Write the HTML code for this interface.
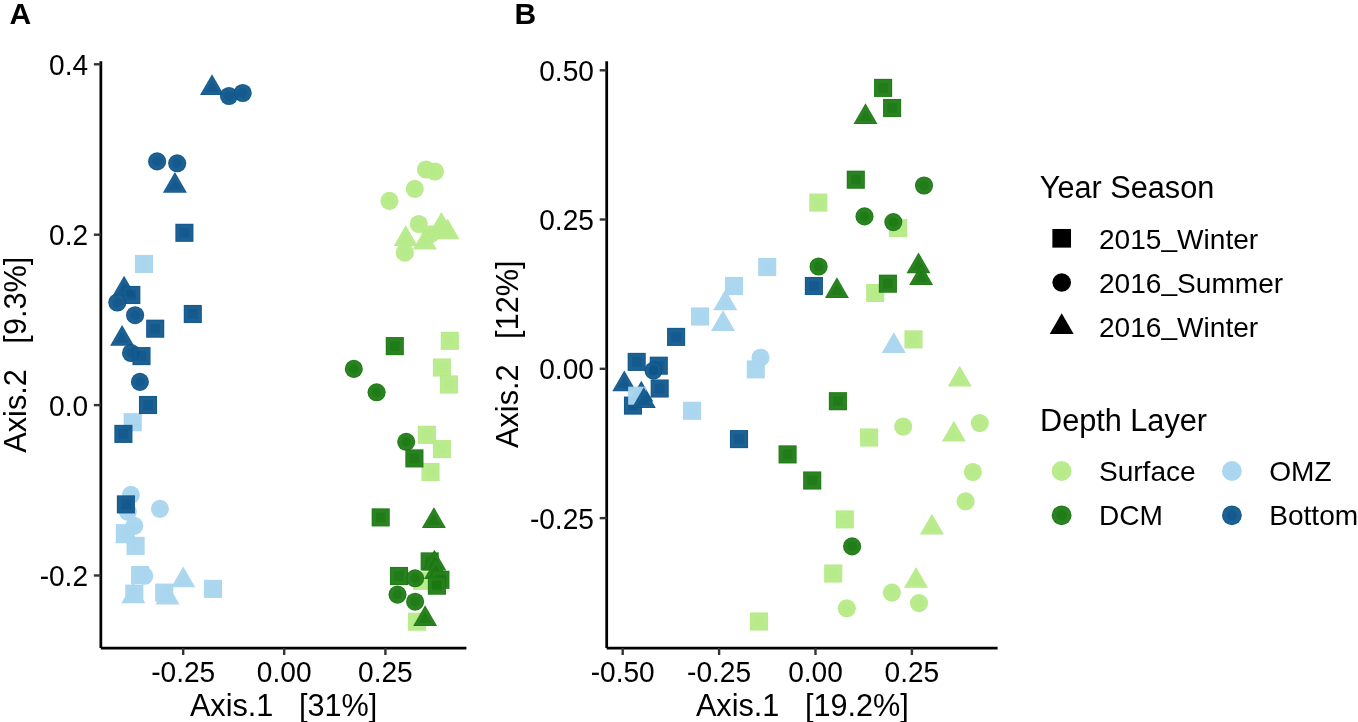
<!DOCTYPE html>
<html lang="en">
<head>
<meta charset="utf-8">
<title>PCoA ordination by depth layer and season</title>
<style>
html,body{margin:0;padding:0;background:#fff;}
body{width:1358px;height:722px;overflow:hidden;font-family:"Liberation Sans",sans-serif;}
svg{display:block;}
</style>
</head>
<body>
<svg width="1358" height="722" viewBox="0 0 1358 722" font-family="'Liberation Sans', sans-serif">
<rect width="1358" height="722" fill="#fff"/>
<text x="9.6" y="24.4" font-size="30.0" font-weight="bold">A</text>
<text x="514.5" y="24.4" font-size="30.0" font-weight="bold">B</text>
<g id="panelA">
<rect x="134.95" y="254.85" width="18.10" height="18.10" fill="#a8d5ee" fill-opacity="0.97"/><rect x="137.53" y="257.43" width="12.94" height="12.94" fill="none" stroke="#fff" stroke-opacity="0.03" stroke-width="3.35"/>
<rect x="123.65" y="413.15" width="18.10" height="18.10" fill="#a8d5ee" fill-opacity="0.97"/><rect x="126.23" y="415.73" width="12.94" height="12.94" fill="none" stroke="#fff" stroke-opacity="0.03" stroke-width="3.35"/>
<circle cx="130.90" cy="494.80" r="9.05" fill="#a8d5ee" fill-opacity="0.97"/><circle cx="130.90" cy="494.80" r="6.47" fill="none" stroke="#fff" stroke-opacity="0.03" stroke-width="3.35"/>
<circle cx="127.80" cy="511.80" r="9.05" fill="#a8d5ee" fill-opacity="0.97"/><circle cx="127.80" cy="511.80" r="6.47" fill="none" stroke="#fff" stroke-opacity="0.03" stroke-width="3.35"/>
<circle cx="159.90" cy="508.90" r="9.05" fill="#a8d5ee" fill-opacity="0.97"/><circle cx="159.90" cy="508.90" r="6.47" fill="none" stroke="#fff" stroke-opacity="0.03" stroke-width="3.35"/>
<polygon points="127.00,522.46 138.99,543.22 115.01,543.22" fill="#a8d5ee" fill-opacity="0.97"/><polygon points="127.00,526.40 135.57,541.25 118.43,541.25" fill="none" stroke="#fff" stroke-opacity="0.03" stroke-width="2.56"/>
<circle cx="134.30" cy="525.90" r="9.05" fill="#a8d5ee" fill-opacity="0.97"/><circle cx="134.30" cy="525.90" r="6.47" fill="none" stroke="#fff" stroke-opacity="0.03" stroke-width="3.35"/>
<rect x="115.85" y="524.15" width="18.10" height="18.10" fill="#a8d5ee" fill-opacity="0.97"/><rect x="118.43" y="526.73" width="12.94" height="12.94" fill="none" stroke="#fff" stroke-opacity="0.03" stroke-width="3.35"/>
<rect x="126.55" y="536.85" width="18.10" height="18.10" fill="#a8d5ee" fill-opacity="0.97"/><rect x="129.13" y="539.43" width="12.94" height="12.94" fill="none" stroke="#fff" stroke-opacity="0.03" stroke-width="3.35"/>
<rect x="131.05" y="565.95" width="18.10" height="18.10" fill="#a8d5ee" fill-opacity="0.97"/><rect x="133.63" y="568.53" width="12.94" height="12.94" fill="none" stroke="#fff" stroke-opacity="0.03" stroke-width="3.35"/>
<circle cx="144.30" cy="575.80" r="9.05" fill="#a8d5ee" fill-opacity="0.97"/><circle cx="144.30" cy="575.80" r="6.47" fill="none" stroke="#fff" stroke-opacity="0.03" stroke-width="3.35"/>
<polygon points="183.20,566.56 195.19,587.32 171.21,587.32" fill="#a8d5ee" fill-opacity="0.97"/><polygon points="183.20,570.50 191.77,585.35 174.63,585.35" fill="none" stroke="#fff" stroke-opacity="0.03" stroke-width="2.56"/>
<rect x="203.95" y="579.85" width="18.10" height="18.10" fill="#a8d5ee" fill-opacity="0.97"/><rect x="206.53" y="582.43" width="12.94" height="12.94" fill="none" stroke="#fff" stroke-opacity="0.03" stroke-width="3.35"/>
<polygon points="133.30,582.56 145.29,603.32 121.31,603.32" fill="#a8d5ee" fill-opacity="0.97"/><polygon points="133.30,586.50 141.87,601.35 124.73,601.35" fill="none" stroke="#fff" stroke-opacity="0.03" stroke-width="2.56"/>
<rect x="125.25" y="584.55" width="18.10" height="18.10" fill="#a8d5ee" fill-opacity="0.97"/><rect x="127.83" y="587.13" width="12.94" height="12.94" fill="none" stroke="#fff" stroke-opacity="0.03" stroke-width="3.35"/>
<polygon points="167.60,583.66 179.59,604.42 155.61,604.42" fill="#a8d5ee" fill-opacity="0.97"/><polygon points="167.60,587.60 176.17,602.45 159.03,602.45" fill="none" stroke="#fff" stroke-opacity="0.03" stroke-width="2.56"/>
<rect x="155.15" y="583.55" width="18.10" height="18.10" fill="#a8d5ee" fill-opacity="0.97"/><rect x="157.73" y="586.13" width="12.94" height="12.94" fill="none" stroke="#fff" stroke-opacity="0.03" stroke-width="3.35"/>
<polygon points="212.00,74.16 223.99,94.92 200.01,94.92" fill="#0c558a" fill-opacity="0.97"/><polygon points="212.00,78.10 220.57,92.95 203.43,92.95" fill="none" stroke="#fff" stroke-opacity="0.04" stroke-width="2.56"/>
<circle cx="229.00" cy="96.00" r="9.05" fill="#0c558a" fill-opacity="0.97"/><circle cx="229.00" cy="96.00" r="6.47" fill="none" stroke="#fff" stroke-opacity="0.04" stroke-width="3.35"/>
<circle cx="242.70" cy="93.00" r="9.05" fill="#0c558a" fill-opacity="0.97"/><circle cx="242.70" cy="93.00" r="6.47" fill="none" stroke="#fff" stroke-opacity="0.04" stroke-width="3.35"/>
<circle cx="157.10" cy="161.40" r="9.05" fill="#0c558a" fill-opacity="0.97"/><circle cx="157.10" cy="161.40" r="6.47" fill="none" stroke="#fff" stroke-opacity="0.04" stroke-width="3.35"/>
<polygon points="174.90,172.06 186.89,192.82 162.91,192.82" fill="#0c558a" fill-opacity="0.97"/><polygon points="174.90,176.00 183.47,190.85 166.33,190.85" fill="none" stroke="#fff" stroke-opacity="0.04" stroke-width="2.56"/>
<circle cx="177.20" cy="163.30" r="9.05" fill="#0c558a" fill-opacity="0.97"/><circle cx="177.20" cy="163.30" r="6.47" fill="none" stroke="#fff" stroke-opacity="0.04" stroke-width="3.35"/>
<rect x="175.35" y="223.75" width="18.10" height="18.10" fill="#0c558a" fill-opacity="0.97"/><rect x="177.93" y="226.33" width="12.94" height="12.94" fill="none" stroke="#fff" stroke-opacity="0.04" stroke-width="3.35"/>
<polygon points="124.10,275.86 136.09,296.62 112.11,296.62" fill="#0c558a" fill-opacity="0.97"/><polygon points="124.10,279.80 132.67,294.65 115.53,294.65" fill="none" stroke="#fff" stroke-opacity="0.04" stroke-width="2.56"/>
<rect x="122.25" y="285.95" width="18.10" height="18.10" fill="#0c558a" fill-opacity="0.97"/><rect x="124.83" y="288.53" width="12.94" height="12.94" fill="none" stroke="#fff" stroke-opacity="0.04" stroke-width="3.35"/>
<circle cx="117.30" cy="302.50" r="9.05" fill="#0c558a" fill-opacity="0.97"/><circle cx="117.30" cy="302.50" r="6.47" fill="none" stroke="#fff" stroke-opacity="0.04" stroke-width="3.35"/>
<circle cx="135.10" cy="315.20" r="9.05" fill="#0c558a" fill-opacity="0.97"/><circle cx="135.10" cy="315.20" r="6.47" fill="none" stroke="#fff" stroke-opacity="0.04" stroke-width="3.35"/>
<rect x="183.75" y="304.95" width="18.10" height="18.10" fill="#0c558a" fill-opacity="0.97"/><rect x="186.33" y="307.53" width="12.94" height="12.94" fill="none" stroke="#fff" stroke-opacity="0.04" stroke-width="3.35"/>
<rect x="146.15" y="319.65" width="18.10" height="18.10" fill="#0c558a" fill-opacity="0.97"/><rect x="148.73" y="322.23" width="12.94" height="12.94" fill="none" stroke="#fff" stroke-opacity="0.04" stroke-width="3.35"/>
<polygon points="122.10,324.96 134.09,345.72 110.11,345.72" fill="#0c558a" fill-opacity="0.97"/><polygon points="122.10,328.90 130.67,343.75 113.53,343.75" fill="none" stroke="#fff" stroke-opacity="0.04" stroke-width="2.56"/>
<circle cx="131.00" cy="353.00" r="9.05" fill="#0c558a" fill-opacity="0.97"/><circle cx="131.00" cy="353.00" r="6.47" fill="none" stroke="#fff" stroke-opacity="0.04" stroke-width="3.35"/>
<rect x="132.45" y="347.05" width="18.10" height="18.10" fill="#0c558a" fill-opacity="0.97"/><rect x="135.03" y="349.63" width="12.94" height="12.94" fill="none" stroke="#fff" stroke-opacity="0.04" stroke-width="3.35"/>
<circle cx="139.90" cy="381.90" r="9.05" fill="#0c558a" fill-opacity="0.97"/><circle cx="139.90" cy="381.90" r="6.47" fill="none" stroke="#fff" stroke-opacity="0.04" stroke-width="3.35"/>
<rect x="138.95" y="395.95" width="18.10" height="18.10" fill="#0c558a" fill-opacity="0.97"/><rect x="141.53" y="398.53" width="12.94" height="12.94" fill="none" stroke="#fff" stroke-opacity="0.04" stroke-width="3.35"/>
<rect x="114.35" y="424.85" width="18.10" height="18.10" fill="#0c558a" fill-opacity="0.97"/><rect x="116.93" y="427.43" width="12.94" height="12.94" fill="none" stroke="#fff" stroke-opacity="0.04" stroke-width="3.35"/>
<rect x="116.85" y="495.35" width="18.10" height="18.10" fill="#0c558a" fill-opacity="0.97"/><rect x="119.43" y="497.93" width="12.94" height="12.94" fill="none" stroke="#fff" stroke-opacity="0.04" stroke-width="3.35"/>
<circle cx="426.00" cy="169.50" r="9.05" fill="#b5ea85" fill-opacity="0.97"/><circle cx="426.00" cy="169.50" r="6.47" fill="none" stroke="#fff" stroke-opacity="0.045" stroke-width="3.35"/>
<circle cx="434.90" cy="171.50" r="9.05" fill="#b5ea85" fill-opacity="0.97"/><circle cx="434.90" cy="171.50" r="6.47" fill="none" stroke="#fff" stroke-opacity="0.045" stroke-width="3.35"/>
<circle cx="414.80" cy="188.90" r="9.05" fill="#b5ea85" fill-opacity="0.97"/><circle cx="414.80" cy="188.90" r="6.47" fill="none" stroke="#fff" stroke-opacity="0.045" stroke-width="3.35"/>
<circle cx="389.40" cy="200.90" r="9.05" fill="#b5ea85" fill-opacity="0.97"/><circle cx="389.40" cy="200.90" r="6.47" fill="none" stroke="#fff" stroke-opacity="0.045" stroke-width="3.35"/>
<polygon points="441.40,212.06 453.39,232.82 429.41,232.82" fill="#b5ea85" fill-opacity="0.97"/><polygon points="441.40,216.00 449.97,230.85 432.83,230.85" fill="none" stroke="#fff" stroke-opacity="0.045" stroke-width="2.56"/>
<polygon points="447.60,218.56 459.59,239.32 435.61,239.32" fill="#b5ea85" fill-opacity="0.97"/><polygon points="447.60,222.50 456.17,237.35 439.03,237.35" fill="none" stroke="#fff" stroke-opacity="0.045" stroke-width="2.56"/>
<circle cx="430.50" cy="234.20" r="9.05" fill="#b5ea85" fill-opacity="0.97"/><circle cx="430.50" cy="234.20" r="6.47" fill="none" stroke="#fff" stroke-opacity="0.045" stroke-width="3.35"/>
<circle cx="418.80" cy="224.00" r="9.05" fill="#b5ea85" fill-opacity="0.97"/><circle cx="418.80" cy="224.00" r="6.47" fill="none" stroke="#fff" stroke-opacity="0.045" stroke-width="3.35"/>
<polygon points="405.70,225.36 417.69,246.12 393.71,246.12" fill="#b5ea85" fill-opacity="0.97"/><polygon points="405.70,229.30 414.27,244.15 397.13,244.15" fill="none" stroke="#fff" stroke-opacity="0.045" stroke-width="2.56"/>
<polygon points="424.80,228.76 436.79,249.52 412.81,249.52" fill="#b5ea85" fill-opacity="0.97"/><polygon points="424.80,232.70 433.37,247.55 416.23,247.55" fill="none" stroke="#fff" stroke-opacity="0.045" stroke-width="2.56"/>
<circle cx="404.80" cy="252.60" r="9.05" fill="#b5ea85" fill-opacity="0.97"/><circle cx="404.80" cy="252.60" r="6.47" fill="none" stroke="#fff" stroke-opacity="0.045" stroke-width="3.35"/>
<rect x="440.75" y="331.75" width="18.10" height="18.10" fill="#b5ea85" fill-opacity="0.97"/><rect x="443.33" y="334.33" width="12.94" height="12.94" fill="none" stroke="#fff" stroke-opacity="0.045" stroke-width="3.35"/>
<rect x="432.85" y="358.45" width="18.10" height="18.10" fill="#b5ea85" fill-opacity="0.97"/><rect x="435.43" y="361.03" width="12.94" height="12.94" fill="none" stroke="#fff" stroke-opacity="0.045" stroke-width="3.35"/>
<rect x="439.95" y="375.45" width="18.10" height="18.10" fill="#b5ea85" fill-opacity="0.97"/><rect x="442.53" y="378.03" width="12.94" height="12.94" fill="none" stroke="#fff" stroke-opacity="0.045" stroke-width="3.35"/>
<rect x="417.85" y="425.75" width="18.10" height="18.10" fill="#b5ea85" fill-opacity="0.97"/><rect x="420.43" y="428.33" width="12.94" height="12.94" fill="none" stroke="#fff" stroke-opacity="0.045" stroke-width="3.35"/>
<rect x="432.85" y="440.05" width="18.10" height="18.10" fill="#b5ea85" fill-opacity="0.97"/><rect x="435.43" y="442.63" width="12.94" height="12.94" fill="none" stroke="#fff" stroke-opacity="0.045" stroke-width="3.35"/>
<rect x="421.45" y="462.95" width="18.10" height="18.10" fill="#b5ea85" fill-opacity="0.97"/><rect x="424.03" y="465.53" width="12.94" height="12.94" fill="none" stroke="#fff" stroke-opacity="0.045" stroke-width="3.35"/>
<rect x="413.05" y="571.75" width="18.10" height="18.10" fill="#b5ea85" fill-opacity="0.97"/><rect x="415.63" y="574.33" width="12.94" height="12.94" fill="none" stroke="#fff" stroke-opacity="0.045" stroke-width="3.35"/>
<rect x="408.05" y="612.65" width="18.10" height="18.10" fill="#b5ea85" fill-opacity="0.97"/><rect x="410.63" y="615.23" width="12.94" height="12.94" fill="none" stroke="#fff" stroke-opacity="0.045" stroke-width="3.35"/>
<rect x="385.75" y="337.05" width="18.10" height="18.10" fill="#197810" fill-opacity="0.97"/><rect x="388.33" y="339.63" width="12.94" height="12.94" fill="none" stroke="#fff" stroke-opacity="0.05" stroke-width="3.35"/>
<circle cx="353.80" cy="368.90" r="9.05" fill="#197810" fill-opacity="0.97"/><circle cx="353.80" cy="368.90" r="6.47" fill="none" stroke="#fff" stroke-opacity="0.05" stroke-width="3.35"/>
<circle cx="376.60" cy="392.30" r="9.05" fill="#197810" fill-opacity="0.97"/><circle cx="376.60" cy="392.30" r="6.47" fill="none" stroke="#fff" stroke-opacity="0.05" stroke-width="3.35"/>
<circle cx="406.20" cy="441.80" r="9.05" fill="#197810" fill-opacity="0.97"/><circle cx="406.20" cy="441.80" r="6.47" fill="none" stroke="#fff" stroke-opacity="0.05" stroke-width="3.35"/>
<rect x="405.35" y="449.35" width="18.10" height="18.10" fill="#197810" fill-opacity="0.97"/><rect x="407.93" y="451.93" width="12.94" height="12.94" fill="none" stroke="#fff" stroke-opacity="0.05" stroke-width="3.35"/>
<rect x="371.65" y="508.35" width="18.10" height="18.10" fill="#197810" fill-opacity="0.97"/><rect x="374.23" y="510.93" width="12.94" height="12.94" fill="none" stroke="#fff" stroke-opacity="0.05" stroke-width="3.35"/>
<polygon points="433.90,507.16 445.89,527.92 421.91,527.92" fill="#197810" fill-opacity="0.97"/><polygon points="433.90,511.10 442.47,525.95 425.33,525.95" fill="none" stroke="#fff" stroke-opacity="0.05" stroke-width="2.56"/>
<rect x="420.65" y="552.35" width="18.10" height="18.10" fill="#197810" fill-opacity="0.97"/><rect x="423.23" y="554.93" width="12.94" height="12.94" fill="none" stroke="#fff" stroke-opacity="0.05" stroke-width="3.35"/>
<polygon points="434.40,549.76 446.39,570.52 422.41,570.52" fill="#197810" fill-opacity="0.97"/><polygon points="434.40,553.70 442.97,568.55 425.83,568.55" fill="none" stroke="#fff" stroke-opacity="0.05" stroke-width="2.56"/>
<rect x="389.95" y="566.95" width="18.10" height="18.10" fill="#197810" fill-opacity="0.97"/><rect x="392.53" y="569.53" width="12.94" height="12.94" fill="none" stroke="#fff" stroke-opacity="0.05" stroke-width="3.35"/>
<circle cx="415.10" cy="578.30" r="9.05" fill="#197810" fill-opacity="0.97"/><circle cx="415.10" cy="578.30" r="6.47" fill="none" stroke="#fff" stroke-opacity="0.05" stroke-width="3.35"/>
<polygon points="436.00,558.16 447.99,578.92 424.01,578.92" fill="#197810" fill-opacity="0.97"/><polygon points="436.00,562.10 444.57,576.95 427.43,576.95" fill="none" stroke="#fff" stroke-opacity="0.05" stroke-width="2.56"/>
<rect x="431.35" y="570.75" width="18.10" height="18.10" fill="#197810" fill-opacity="0.97"/><rect x="433.93" y="573.33" width="12.94" height="12.94" fill="none" stroke="#fff" stroke-opacity="0.05" stroke-width="3.35"/>
<rect x="427.85" y="576.65" width="18.10" height="18.10" fill="#197810" fill-opacity="0.97"/><rect x="430.43" y="579.23" width="12.94" height="12.94" fill="none" stroke="#fff" stroke-opacity="0.05" stroke-width="3.35"/>
<circle cx="397.50" cy="594.60" r="9.05" fill="#197810" fill-opacity="0.97"/><circle cx="397.50" cy="594.60" r="6.47" fill="none" stroke="#fff" stroke-opacity="0.05" stroke-width="3.35"/>
<circle cx="415.10" cy="601.70" r="9.05" fill="#197810" fill-opacity="0.97"/><circle cx="415.10" cy="601.70" r="6.47" fill="none" stroke="#fff" stroke-opacity="0.05" stroke-width="3.35"/>
<polygon points="425.10,605.26 437.09,626.02 413.11,626.02" fill="#197810" fill-opacity="0.97"/><polygon points="425.10,609.20 433.67,624.05 416.53,624.05" fill="none" stroke="#fff" stroke-opacity="0.05" stroke-width="2.56"/>
<line x1="100.85" y1="61.2" x2="100.85" y2="648.0" stroke="#000" stroke-width="2.75"/>
<line x1="100.85" y1="648.0" x2="466.4" y2="648.0" stroke="#000" stroke-width="2.75"/>
<line x1="183.2" y1="648.0" x2="183.2" y2="655.0" stroke="#333" stroke-width="2.4"/>
<text transform="translate(183.2,681.85) scale(1,1.075)" font-size="28.1" text-anchor="middle" fill="#000">-0.25</text>
<line x1="284.2" y1="648.0" x2="284.2" y2="655.0" stroke="#333" stroke-width="2.4"/>
<text transform="translate(284.2,681.85) scale(1,1.075)" font-size="28.1" text-anchor="middle" fill="#000">0.00</text>
<line x1="385.4" y1="648.0" x2="385.4" y2="655.0" stroke="#333" stroke-width="2.4"/>
<text transform="translate(385.4,681.85) scale(1,1.075)" font-size="28.1" text-anchor="middle" fill="#000">0.25</text>
<line x1="93.85" y1="64.3" x2="100.85" y2="64.3" stroke="#333" stroke-width="2.4"/>
<text transform="translate(88.05,74.7) scale(1,1.075)" font-size="28.1" text-anchor="end" fill="#000">0.4</text>
<line x1="93.85" y1="234.7" x2="100.85" y2="234.7" stroke="#333" stroke-width="2.4"/>
<text transform="translate(88.05,245.1) scale(1,1.075)" font-size="28.1" text-anchor="end" fill="#000">0.2</text>
<line x1="93.85" y1="405.1" x2="100.85" y2="405.1" stroke="#333" stroke-width="2.4"/>
<text transform="translate(88.05,415.5) scale(1,1.075)" font-size="28.1" text-anchor="end" fill="#000">0.0</text>
<line x1="93.85" y1="575.5" x2="100.85" y2="575.5" stroke="#333" stroke-width="2.4"/>
<text transform="translate(88.05,585.9) scale(1,1.075)" font-size="28.1" text-anchor="end" fill="#000">-0.2</text>
<text x="283.6" y="716.3" font-size="30.67" text-anchor="middle" xml:space="preserve">Axis.1   [31%]</text>
<text transform="translate(26.4,354.7) rotate(-90)" font-size="30.67" text-anchor="middle" xml:space="preserve">Axis.2   [9.3%]</text>
</g>
<g id="panelB">
<rect x="809.25" y="193.55" width="18.10" height="18.10" fill="#b5ea85" fill-opacity="0.97"/><rect x="811.83" y="196.13" width="12.94" height="12.94" fill="none" stroke="#fff" stroke-opacity="0.045" stroke-width="3.35"/>
<rect x="889.05" y="219.05" width="18.10" height="18.10" fill="#b5ea85" fill-opacity="0.97"/><rect x="891.63" y="221.63" width="12.94" height="12.94" fill="none" stroke="#fff" stroke-opacity="0.045" stroke-width="3.35"/>
<rect x="866.15" y="283.95" width="18.10" height="18.10" fill="#b5ea85" fill-opacity="0.97"/><rect x="868.73" y="286.53" width="12.94" height="12.94" fill="none" stroke="#fff" stroke-opacity="0.045" stroke-width="3.35"/>
<rect x="904.45" y="330.35" width="18.10" height="18.10" fill="#b5ea85" fill-opacity="0.97"/><rect x="907.03" y="332.93" width="12.94" height="12.94" fill="none" stroke="#fff" stroke-opacity="0.045" stroke-width="3.35"/>
<polygon points="959.70,365.76 971.69,386.52 947.71,386.52" fill="#b5ea85" fill-opacity="0.97"/><polygon points="959.70,369.70 968.27,384.55 951.13,384.55" fill="none" stroke="#fff" stroke-opacity="0.045" stroke-width="2.56"/>
<rect x="860.05" y="428.45" width="18.10" height="18.10" fill="#b5ea85" fill-opacity="0.97"/><rect x="862.63" y="431.03" width="12.94" height="12.94" fill="none" stroke="#fff" stroke-opacity="0.045" stroke-width="3.35"/>
<circle cx="903.20" cy="426.60" r="9.05" fill="#b5ea85" fill-opacity="0.97"/><circle cx="903.20" cy="426.60" r="6.47" fill="none" stroke="#fff" stroke-opacity="0.045" stroke-width="3.35"/>
<polygon points="953.90,420.76 965.89,441.52 941.91,441.52" fill="#b5ea85" fill-opacity="0.97"/><polygon points="953.90,424.70 962.47,439.55 945.33,439.55" fill="none" stroke="#fff" stroke-opacity="0.045" stroke-width="2.56"/>
<circle cx="979.80" cy="423.10" r="9.05" fill="#b5ea85" fill-opacity="0.97"/><circle cx="979.80" cy="423.10" r="6.47" fill="none" stroke="#fff" stroke-opacity="0.045" stroke-width="3.35"/>
<circle cx="972.90" cy="472.00" r="9.05" fill="#b5ea85" fill-opacity="0.97"/><circle cx="972.90" cy="472.00" r="6.47" fill="none" stroke="#fff" stroke-opacity="0.045" stroke-width="3.35"/>
<circle cx="965.60" cy="501.40" r="9.05" fill="#b5ea85" fill-opacity="0.97"/><circle cx="965.60" cy="501.40" r="6.47" fill="none" stroke="#fff" stroke-opacity="0.045" stroke-width="3.35"/>
<polygon points="931.90,513.66 943.89,534.42 919.91,534.42" fill="#b5ea85" fill-opacity="0.97"/><polygon points="931.90,517.60 940.47,532.45 923.33,532.45" fill="none" stroke="#fff" stroke-opacity="0.045" stroke-width="2.56"/>
<rect x="835.75" y="510.35" width="18.10" height="18.10" fill="#b5ea85" fill-opacity="0.97"/><rect x="838.33" y="512.93" width="12.94" height="12.94" fill="none" stroke="#fff" stroke-opacity="0.045" stroke-width="3.35"/>
<rect x="824.15" y="564.45" width="18.10" height="18.10" fill="#b5ea85" fill-opacity="0.97"/><rect x="826.73" y="567.03" width="12.94" height="12.94" fill="none" stroke="#fff" stroke-opacity="0.045" stroke-width="3.35"/>
<circle cx="846.80" cy="608.30" r="9.05" fill="#b5ea85" fill-opacity="0.97"/><circle cx="846.80" cy="608.30" r="6.47" fill="none" stroke="#fff" stroke-opacity="0.045" stroke-width="3.35"/>
<circle cx="891.90" cy="592.60" r="9.05" fill="#b5ea85" fill-opacity="0.97"/><circle cx="891.90" cy="592.60" r="6.47" fill="none" stroke="#fff" stroke-opacity="0.045" stroke-width="3.35"/>
<polygon points="916.00,566.96 927.99,587.72 904.01,587.72" fill="#b5ea85" fill-opacity="0.97"/><polygon points="916.00,570.90 924.57,585.75 907.43,585.75" fill="none" stroke="#fff" stroke-opacity="0.045" stroke-width="2.56"/>
<circle cx="919.00" cy="603.10" r="9.05" fill="#b5ea85" fill-opacity="0.97"/><circle cx="919.00" cy="603.10" r="6.47" fill="none" stroke="#fff" stroke-opacity="0.045" stroke-width="3.35"/>
<rect x="749.95" y="612.45" width="18.10" height="18.10" fill="#b5ea85" fill-opacity="0.97"/><rect x="752.53" y="615.03" width="12.94" height="12.94" fill="none" stroke="#fff" stroke-opacity="0.045" stroke-width="3.35"/>
<rect x="758.15" y="257.95" width="18.10" height="18.10" fill="#a8d5ee" fill-opacity="0.97"/><rect x="760.73" y="260.53" width="12.94" height="12.94" fill="none" stroke="#fff" stroke-opacity="0.03" stroke-width="3.35"/>
<polygon points="725.30,289.46 737.29,310.22 713.31,310.22" fill="#a8d5ee" fill-opacity="0.97"/><polygon points="725.30,293.40 733.87,308.25 716.73,308.25" fill="none" stroke="#fff" stroke-opacity="0.03" stroke-width="2.56"/>
<rect x="724.95" y="276.95" width="18.10" height="18.10" fill="#a8d5ee" fill-opacity="0.97"/><rect x="727.53" y="279.53" width="12.94" height="12.94" fill="none" stroke="#fff" stroke-opacity="0.03" stroke-width="3.35"/>
<rect x="691.05" y="307.45" width="18.10" height="18.10" fill="#a8d5ee" fill-opacity="0.97"/><rect x="693.63" y="310.03" width="12.94" height="12.94" fill="none" stroke="#fff" stroke-opacity="0.03" stroke-width="3.35"/>
<polygon points="723.00,310.16 734.99,330.92 711.01,330.92" fill="#a8d5ee" fill-opacity="0.97"/><polygon points="723.00,314.10 731.57,328.95 714.43,328.95" fill="none" stroke="#fff" stroke-opacity="0.03" stroke-width="2.56"/>
<rect x="746.75" y="360.35" width="18.10" height="18.10" fill="#a8d5ee" fill-opacity="0.97"/><rect x="749.33" y="362.93" width="12.94" height="12.94" fill="none" stroke="#fff" stroke-opacity="0.03" stroke-width="3.35"/>
<circle cx="760.50" cy="357.70" r="9.05" fill="#a8d5ee" fill-opacity="0.97"/><circle cx="760.50" cy="357.70" r="6.47" fill="none" stroke="#fff" stroke-opacity="0.03" stroke-width="3.35"/>
<rect x="683.05" y="401.75" width="18.10" height="18.10" fill="#a8d5ee" fill-opacity="0.97"/><rect x="685.63" y="404.33" width="12.94" height="12.94" fill="none" stroke="#fff" stroke-opacity="0.03" stroke-width="3.35"/>
<polygon points="893.80,332.36 905.79,353.12 881.81,353.12" fill="#a8d5ee" fill-opacity="0.97"/><polygon points="893.80,336.30 902.37,351.15 885.23,351.15" fill="none" stroke="#fff" stroke-opacity="0.03" stroke-width="2.56"/>
<rect x="874.05" y="78.85" width="18.10" height="18.10" fill="#197810" fill-opacity="0.97"/><rect x="876.63" y="81.43" width="12.94" height="12.94" fill="none" stroke="#fff" stroke-opacity="0.05" stroke-width="3.35"/>
<rect x="883.05" y="98.95" width="18.10" height="18.10" fill="#197810" fill-opacity="0.97"/><rect x="885.63" y="101.53" width="12.94" height="12.94" fill="none" stroke="#fff" stroke-opacity="0.05" stroke-width="3.35"/>
<polygon points="865.50,103.26 877.49,124.02 853.51,124.02" fill="#197810" fill-opacity="0.97"/><polygon points="865.50,107.20 874.07,122.05 856.93,122.05" fill="none" stroke="#fff" stroke-opacity="0.05" stroke-width="2.56"/>
<rect x="846.75" y="170.65" width="18.10" height="18.10" fill="#197810" fill-opacity="0.97"/><rect x="849.33" y="173.23" width="12.94" height="12.94" fill="none" stroke="#fff" stroke-opacity="0.05" stroke-width="3.35"/>
<circle cx="924.00" cy="185.50" r="9.05" fill="#197810" fill-opacity="0.97"/><circle cx="924.00" cy="185.50" r="6.47" fill="none" stroke="#fff" stroke-opacity="0.05" stroke-width="3.35"/>
<circle cx="864.50" cy="216.40" r="9.05" fill="#197810" fill-opacity="0.97"/><circle cx="864.50" cy="216.40" r="6.47" fill="none" stroke="#fff" stroke-opacity="0.05" stroke-width="3.35"/>
<circle cx="893.30" cy="222.10" r="9.05" fill="#197810" fill-opacity="0.97"/><circle cx="893.30" cy="222.10" r="6.47" fill="none" stroke="#fff" stroke-opacity="0.05" stroke-width="3.35"/>
<circle cx="818.60" cy="266.50" r="9.05" fill="#197810" fill-opacity="0.97"/><circle cx="818.60" cy="266.50" r="6.47" fill="none" stroke="#fff" stroke-opacity="0.05" stroke-width="3.35"/>
<polygon points="918.50,252.46 930.49,273.22 906.51,273.22" fill="#197810" fill-opacity="0.97"/><polygon points="918.50,256.40 927.07,271.25 909.93,271.25" fill="none" stroke="#fff" stroke-opacity="0.05" stroke-width="2.56"/>
<polygon points="921.10,264.16 933.09,284.92 909.11,284.92" fill="#197810" fill-opacity="0.97"/><polygon points="921.10,268.10 929.67,282.95 912.53,282.95" fill="none" stroke="#fff" stroke-opacity="0.05" stroke-width="2.56"/>
<rect x="878.85" y="274.65" width="18.10" height="18.10" fill="#197810" fill-opacity="0.97"/><rect x="881.43" y="277.23" width="12.94" height="12.94" fill="none" stroke="#fff" stroke-opacity="0.05" stroke-width="3.35"/>
<polygon points="836.90,277.16 848.89,297.92 824.91,297.92" fill="#197810" fill-opacity="0.97"/><polygon points="836.90,281.10 845.47,295.95 828.33,295.95" fill="none" stroke="#fff" stroke-opacity="0.05" stroke-width="2.56"/>
<rect x="828.85" y="392.15" width="18.10" height="18.10" fill="#197810" fill-opacity="0.97"/><rect x="831.43" y="394.73" width="12.94" height="12.94" fill="none" stroke="#fff" stroke-opacity="0.05" stroke-width="3.35"/>
<rect x="778.55" y="445.35" width="18.10" height="18.10" fill="#197810" fill-opacity="0.97"/><rect x="781.13" y="447.93" width="12.94" height="12.94" fill="none" stroke="#fff" stroke-opacity="0.05" stroke-width="3.35"/>
<rect x="803.15" y="471.45" width="18.10" height="18.10" fill="#197810" fill-opacity="0.97"/><rect x="805.73" y="474.03" width="12.94" height="12.94" fill="none" stroke="#fff" stroke-opacity="0.05" stroke-width="3.35"/>
<circle cx="852.10" cy="546.40" r="9.05" fill="#197810" fill-opacity="0.97"/><circle cx="852.10" cy="546.40" r="6.47" fill="none" stroke="#fff" stroke-opacity="0.05" stroke-width="3.35"/>
<rect x="804.85" y="276.95" width="18.10" height="18.10" fill="#0c558a" fill-opacity="0.97"/><rect x="807.43" y="279.53" width="12.94" height="12.94" fill="none" stroke="#fff" stroke-opacity="0.04" stroke-width="3.35"/>
<rect x="667.05" y="327.85" width="18.10" height="18.10" fill="#0c558a" fill-opacity="0.97"/><rect x="669.63" y="330.43" width="12.94" height="12.94" fill="none" stroke="#fff" stroke-opacity="0.04" stroke-width="3.35"/>
<rect x="627.65" y="352.85" width="18.10" height="18.10" fill="#0c558a" fill-opacity="0.97"/><rect x="630.23" y="355.43" width="12.94" height="12.94" fill="none" stroke="#fff" stroke-opacity="0.04" stroke-width="3.35"/>
<rect x="649.75" y="356.65" width="18.10" height="18.10" fill="#0c558a" fill-opacity="0.97"/><rect x="652.33" y="359.23" width="12.94" height="12.94" fill="none" stroke="#fff" stroke-opacity="0.04" stroke-width="3.35"/>
<circle cx="653.50" cy="370.60" r="9.05" fill="#0c558a" fill-opacity="0.97"/><circle cx="653.50" cy="370.60" r="6.47" fill="none" stroke="#fff" stroke-opacity="0.04" stroke-width="3.35"/>
<polygon points="624.30,370.46 636.29,391.22 612.31,391.22" fill="#0c558a" fill-opacity="0.97"/><polygon points="624.30,374.40 632.87,389.25 615.73,389.25" fill="none" stroke="#fff" stroke-opacity="0.04" stroke-width="2.56"/>
<rect x="650.65" y="379.45" width="18.10" height="18.10" fill="#0c558a" fill-opacity="0.97"/><rect x="653.23" y="382.03" width="12.94" height="12.94" fill="none" stroke="#fff" stroke-opacity="0.04" stroke-width="3.35"/>
<polygon points="641.30,380.76 653.29,401.52 629.31,401.52" fill="#0c558a" fill-opacity="0.97"/><polygon points="641.30,384.70 649.87,399.55 632.73,399.55" fill="none" stroke="#fff" stroke-opacity="0.04" stroke-width="2.56"/>
<rect x="623.95" y="396.55" width="18.10" height="18.10" fill="#0c558a" fill-opacity="0.97"/><rect x="626.53" y="399.13" width="12.94" height="12.94" fill="none" stroke="#fff" stroke-opacity="0.04" stroke-width="3.35"/>
<rect x="628.15" y="386.65" width="18.10" height="18.10" fill="#a8d5ee" fill-opacity="0.97"/><rect x="630.73" y="389.23" width="12.94" height="12.94" fill="none" stroke="#fff" stroke-opacity="0.03" stroke-width="3.35"/>
<polygon points="643.80,387.16 655.79,407.92 631.81,407.92" fill="#0c558a" fill-opacity="0.97"/><polygon points="643.80,391.10 652.37,405.95 635.23,405.95" fill="none" stroke="#fff" stroke-opacity="0.04" stroke-width="2.56"/>
<rect x="729.95" y="430.05" width="18.10" height="18.10" fill="#0c558a" fill-opacity="0.97"/><rect x="732.53" y="432.63" width="12.94" height="12.94" fill="none" stroke="#fff" stroke-opacity="0.04" stroke-width="3.35"/>
<line x1="606.7" y1="61.2" x2="606.7" y2="648.0" stroke="#000" stroke-width="2.75"/>
<line x1="606.7" y1="648.0" x2="997.6" y2="648.0" stroke="#000" stroke-width="2.75"/>
<line x1="622.7" y1="648.0" x2="622.7" y2="655.0" stroke="#333" stroke-width="2.4"/>
<text transform="translate(622.7,681.85) scale(1,1.075)" font-size="28.1" text-anchor="middle" fill="#000">-0.50</text>
<line x1="719.1" y1="648.0" x2="719.1" y2="655.0" stroke="#333" stroke-width="2.4"/>
<text transform="translate(719.1,681.85) scale(1,1.075)" font-size="28.1" text-anchor="middle" fill="#000">-0.25</text>
<line x1="815.5" y1="648.0" x2="815.5" y2="655.0" stroke="#333" stroke-width="2.4"/>
<text transform="translate(815.5,681.85) scale(1,1.075)" font-size="28.1" text-anchor="middle" fill="#000">0.00</text>
<line x1="911.9" y1="648.0" x2="911.9" y2="655.0" stroke="#333" stroke-width="2.4"/>
<text transform="translate(911.9,681.85) scale(1,1.075)" font-size="28.1" text-anchor="middle" fill="#000">0.25</text>
<line x1="599.7" y1="70.3" x2="606.7" y2="70.3" stroke="#333" stroke-width="2.4"/>
<text transform="translate(593.9000000000001,80.7) scale(1,1.075)" font-size="28.1" text-anchor="end" fill="#000">0.50</text>
<line x1="599.7" y1="219.5" x2="606.7" y2="219.5" stroke="#333" stroke-width="2.4"/>
<text transform="translate(593.9000000000001,229.9) scale(1,1.075)" font-size="28.1" text-anchor="end" fill="#000">0.25</text>
<line x1="599.7" y1="368.8" x2="606.7" y2="368.8" stroke="#333" stroke-width="2.4"/>
<text transform="translate(593.9000000000001,379.2) scale(1,1.075)" font-size="28.1" text-anchor="end" fill="#000">0.00</text>
<line x1="599.7" y1="518.1" x2="606.7" y2="518.1" stroke="#333" stroke-width="2.4"/>
<text transform="translate(593.9000000000001,528.5) scale(1,1.075)" font-size="28.1" text-anchor="end" fill="#000">-0.25</text>
<text x="802.4" y="716.3" font-size="30.67" text-anchor="middle" xml:space="preserve">Axis.1   [19.2%]</text>
<text transform="translate(517.6,354.2) rotate(-90)" font-size="30.67" text-anchor="middle" xml:space="preserve">Axis.2   [12%]</text>
</g>
<g id="legend">
<text x="1039.8" y="198.0" font-size="30.67">Year Season</text>
<rect x="1052.38" y="228.98" width="18.64" height="18.64" fill="#000"/>
<circle cx="1061.70" cy="282.50" r="9.32" fill="#000"/>
<polygon points="1061.70,313.16 1073.69,333.92 1049.71,333.92" fill="#000"/>
<text x="1098.9" y="248.5" font-size="28.1">2015<tspan dy="-2.5">_</tspan><tspan dy="2.5">Winter</tspan></text>
<text x="1098.9" y="292.6" font-size="28.1">2016<tspan dy="-2.5">_</tspan><tspan dy="2.5">Summer</tspan></text>
<text x="1098.9" y="336.8" font-size="28.1">2016<tspan dy="-2.5">_</tspan><tspan dy="2.5">Winter</tspan></text>
<text x="1040.0" y="430.6" font-size="30.67">Depth Layer</text>
<circle cx="1061.60" cy="471.00" r="9.90" fill="#b5ea85" fill-opacity="0.97"/><circle cx="1061.60" cy="471.00" r="7.08" fill="none" stroke="#fff" stroke-opacity="0.045" stroke-width="3.66"/>
<circle cx="1061.60" cy="515.30" r="9.90" fill="#197810" fill-opacity="0.97"/><circle cx="1061.60" cy="515.30" r="7.08" fill="none" stroke="#fff" stroke-opacity="0.05" stroke-width="3.66"/>
<circle cx="1231.90" cy="471.00" r="9.90" fill="#a8d5ee" fill-opacity="0.97"/><circle cx="1231.90" cy="471.00" r="7.08" fill="none" stroke="#fff" stroke-opacity="0.03" stroke-width="3.66"/>
<circle cx="1231.90" cy="515.30" r="9.90" fill="#0c558a" fill-opacity="0.97"/><circle cx="1231.90" cy="515.30" r="7.08" fill="none" stroke="#fff" stroke-opacity="0.04" stroke-width="3.66"/>
<text x="1098.9" y="481.0" font-size="28.1">Surface</text>
<text x="1098.9" y="525.3" font-size="28.1">DCM</text>
<text x="1269.2" y="481.0" font-size="28.1">OMZ</text>
<text x="1269.2" y="525.3" font-size="28.1">Bottom</text>
</g>
</svg>
</body>
</html>
